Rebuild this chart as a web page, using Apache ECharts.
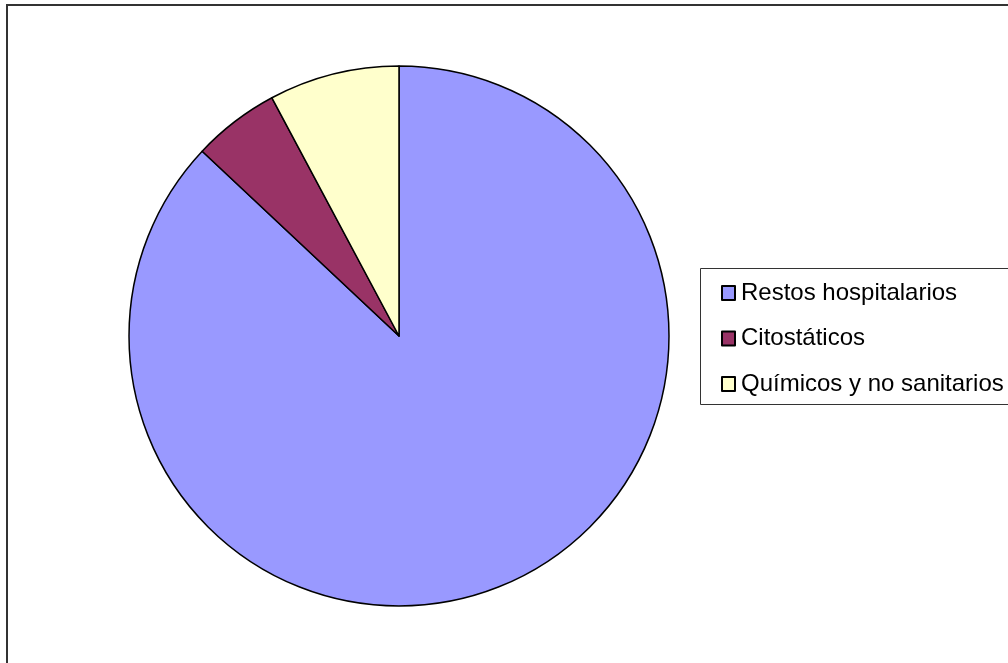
<!DOCTYPE html>
<html>
<head>
<meta charset="utf-8">
<script src="https://cdn.jsdelivr.net/npm/echarts@6/dist/echarts.min.js"></script>
<style>
html,body{margin:0;padding:0;background:#fff;}
#c{width:1008px;height:663px;}
</style>
</head>
<body>
<div id="c"></div>
<script>
var categories = ['Restos hospitalarios', 'Citostáticos', 'Químicos y no sanitarios'];
var values = [87.0, 5.2, 7.8];
var colors = ['#9999FF', '#993366', '#FFFFCC'];

var chart = echarts.init(document.getElementById('c'), null, {renderer: 'canvas'});
var data = categories.map(function (name, i) {
  return {name: name, value: values[i], itemStyle: {color: colors[i]}};
});
chart.setOption({
  animation: false,
  backgroundColor: '#fff',
  graphic: [
    {type: 'rect', shape: {x: 7, y: 5, width: 1010, height: 670}, style: {fill: 'none', stroke: '#333', lineWidth: 2}, z: 0},
    {type: 'rect', shape: {x: 700.5, y: 268.5, width: 320, height: 136}, style: {fill: '#fff', stroke: '#333', lineWidth: 1}, z: 0}
  ],
  legend: {
    orient: 'vertical',
    left: 716,
    top: 276,
    itemWidth: 13,
    itemHeight: 14,
    itemGap: 21.5,
    icon: 'rect',
    itemStyle: {borderColor: '#000', borderWidth: 2},
    textStyle: {fontFamily: 'Liberation Sans, Arial, sans-serif', fontSize: 24, color: '#000', padding: [0, 0, 0, 1]},
    data: categories
  },
  series: [{
    type: 'pie',
    center: [399, 336],
    radius: 270,
    startAngle: 90,
    clockwise: true,
    label: {show: false},
    labelLine: {show: false},
    emphasis: {disabled: true},
    itemStyle: {borderColor: '#000', borderWidth: 1.5},
    data: data
  }]
});
</script>
</body>
</html>
